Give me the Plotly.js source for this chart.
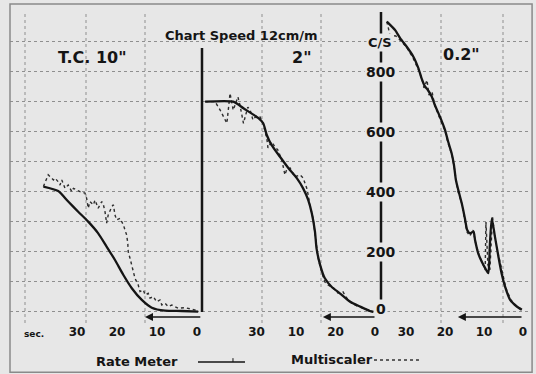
<!DOCTYPE html>
<html>
<head>
<meta charset="utf-8">
<script src="https://cdn.plot.ly/plotly-3.0.1.min.js"></script>
<style>html,body{margin:0;padding:0;background:#e7e7e7;}#chart{width:536px;height:374px;}</style>
</head>
<body>
<div id="chart"></div>
<script>
// ---- Data (seconds before end, counts per second) ----
// Panel T.C. 10"
const tc10RateSec = [38.4, 34.7, 32.2, 29.7, 27.2, 24.7, 22.6, 20.5, 18.4, 16.3, 13.8, 11.3, 8, 3.8, -0.3];
const tc10Rate    = [418, 403, 368, 334, 301, 262, 218, 173, 123, 79, 40, 14, 4, 3, 1];
const tc10MultiSec = [38.4, 37.2, 36.75, 35.9, 35.5, 34.7, 34.25, 33.8, 33, 32.2, 31.3, 30.9, 30.1, 29.25, 28, 27.6, 27.2, 26.75, 25.9, 25.5, 24.7, 23.8, 23.4, 23, 22.6, 22.2, 21.3, 20.9, 20.5, 20.1, 19.25, 18.4, 18, 17.6, 17.3, 17.2, 16.75, 16.3, 15.9, 15.5, 14.7, 14.25, 13.4, 13, 12.2, 11.75, 10.9, 10.1, 9.25, 8.8, 8, 7.2, 6.3, 4.7, 3, 1.3, -0.3];
const tc10Multi    = [418, 457, 451, 440, 446, 434, 423, 440, 412, 423, 401, 412, 407, 401, 396, 379, 346, 368, 357, 373, 346, 368, 357, 334, 296, 323, 351, 357, 323, 307, 312, 290, 273, 257, 229, 201, 179, 157, 134, 112, 90, 68, 73, 57, 62, 46, 51, 34, 40, 23, 29, 18, 23, 12, 14, 10, 4];

// Panel T.C. 2"
const tc2RateSec = [43.0, 35.9, 33.3, 29.5, 28.3, 27.4, 26.2, 24.1, 21.9, 19.8, 18.2, 16.9, 16.0, 15.2, 14.8, 13.9, 12.7, 11.0, 8.9, 6.3, 3.8, 1.3, 0.4];
const tc2Rate    = [701, 701, 679, 646, 629, 590, 557, 518, 479, 446, 412, 373, 329, 268, 212, 157, 112, 84, 62, 34, 18, 3, 0];
const tc2MultiSec = [43.0, 40.5, 39.2, 37.5, 36.7, 35.9, 34.7, 34.2, 33.3, 32.2, 31.6, 30.9, 30.1, 29.1, 28.4, 27.4, 27.1, 26.2, 25.3, 24.6, 23.6, 22.8, 22.4, 21.5, 20.3, 19.0, 18.2, 17.3, 16.9, 16.5, 15.7, 15.2, 14.4, 13.5, 12.7, 11.9, 10.6, 9.4, 8.1, 7.2, 5.9, 4.6, 3.0, 1.3, 0.5];
const tc2Multi    = [701, 701, 673, 629, 729, 673, 717, 690, 629, 683, 673, 640, 653, 650, 630, 580, 547, 567, 550, 540, 507, 457, 473, 480, 450, 457, 447, 413, 390, 357, 313, 257, 180, 133, 100, 90, 80, 63, 67, 47, 30, 20, 13, 3, 0];

// Panel T.C. 0.2"
const tc02RateSec = [34.9, 32.8, 31.5, 29.8, 28.1, 26.8, 26.0, 25.1, 24.4, 23.4, 22.6, 21.3, 20.0, 19.2, 18.3, 17.7, 17.2, 16.6, 15.7, 14.9, 14.3, 13.6, 12.7, 12.3, 11.5, 10.6, 9.7, 8.9, 8.5, 8.0, 7.2, 6.3, 5.5, 4.6, 3.3, 1.6, 0.3];
const tc02Rate    = [968, 940, 913, 884, 851, 812, 779, 751, 740, 718, 690, 651, 607, 568, 529, 490, 440, 407, 362, 312, 273, 262, 268, 240, 196, 168, 146, 129, 223, 312, 251, 184, 129, 84, 40, 18, 7];
const tc02MultiSec = [34.9, 34.1, 32.6, 31.0, 29.7, 28.2, 26.9, 25.9, 25.4, 24.6, 24.1, 23.3, 22.6, 21.3, 20.0, 19.2, 18.2, 17.7, 17.2, 16.7, 15.6, 14.9, 14.4, 13.6, 12.8, 12.1, 11.3, 10.5, 9.7, 9.5, 9.0, 8.5, 7.8, 7.4, 6.7, 5.9, 5.1, 4.4, 3.1, 1.5, 0.3];
const tc02Multi    = [968, 923, 920, 900, 880, 847, 810, 777, 747, 773, 723, 733, 687, 647, 603, 563, 523, 487, 447, 403, 357, 307, 267, 253, 273, 227, 190, 167, 140, 300, 157, 140, 317, 267, 213, 167, 123, 80, 40, 17, 7];

// Tick labels
const secTickVals = [30, 20, 10, 0];
const panel1TickText = ['30', '20', '10', '0'];
const panel2TickText = ['30', '10', '20', '0'];
const panel3TickText = ['30', '20', '10', '0'];
const csLabelVals = [800, 600, 400, 200, 0];

// ---- Styling ----
const BG = '#e7e7e7';
const INK = '#151515';
const FONT = 'DejaVu Sans, Liberation Sans, sans-serif';

function rate(x, y, xa) {
  return {x: x, y: y, xaxis: xa, yaxis: 'y', type: 'scatter', mode: 'lines', name: 'Rate Meter',
          line: {color: INK, width: 2.3, shape: 'spline', smoothing: 0.6}, showlegend: false, hoverinfo: 'skip'};
}
function multi(x, y, xa) {
  return {x: x, y: y, xaxis: xa, yaxis: 'y', type: 'scatter', mode: 'lines', name: 'Multiscaler',
          line: {color: '#2e2e2e', width: 1.4, dash: 'dot'}, showlegend: false, hoverinfo: 'skip'};
}

const traces = [
  multi(tc10MultiSec, tc10Multi, 'x'), rate(tc10RateSec, tc10Rate, 'x'),
  multi(tc2MultiSec, tc2Multi, 'x2'), rate(tc2RateSec, tc2Rate, 'x2'),
  multi(tc02MultiSec, tc02Multi, 'x3'), rate(tc02RateSec, tc02Rate, 'x3')
];

const xCommon = {
  showgrid: false, zeroline: false, showline: false, ticks: '',
  tickvals: secTickVals, anchor: 'y', autorange: false,
  tickfont: {family: FONT, size: 12, color: INK, weight: 'bold'}
};

const gridPx = [25, 86, 145, 262, 321, 441, 503]; // chart-paper vertical rules (pixel columns)
const shapes = gridPx.map(function (p) {
  return {type: 'line', xref: 'paper', yref: 'y', x0: (p - 10) / 520, x1: (p - 10) / 520, y0: -37, y1: 1000,
          line: {color: '#8f8f8f', width: 1, dash: 'dot'}, layer: 'below'};
});
// outer frame
shapes.push({type: 'rect', xref: 'paper', yref: 'paper', x0: 0, x1: 1.004, y0: -0.158, y1: 1.026,
             line: {color: '#8a8a8a', width: 1.5}});
// divider between T.C. 10" and 2"
shapes.push({type: 'line', xref: 'x2 domain', yref: 'y', x0: 0, x1: 0, y0: 0, y1: 880,
             line: {color: INK, width: 2.5}});
// C/S axis line
shapes.push({type: 'line', xref: 'x3 domain', yref: 'y', x0: 0, x1: 0, y0: 0, y1: 1000,
             line: {color: INK, width: 2.5}});
// legend samples
shapes.push({type: 'line', xref: 'paper', yref: 'paper', x0: 0.3615, x1: 0.4519, y0: -0.1254, y1: -0.1254,
             line: {color: INK, width: 1.6}});
shapes.push({type: 'line', xref: 'paper', yref: 'paper', x0: 0.4288, x1: 0.4288, y0: -0.1254, y1: -0.113,
             line: {color: INK, width: 1}});
shapes.push({type: 'line', xref: 'paper', yref: 'paper', x0: 0.70, x1: 0.7865, y0: -0.119, y1: -0.119,
             line: {color: '#333', width: 1.3, dash: 'dot'}});

const bold = function (size) { return {family: FONT, size: size, color: INK, weight: 'bold'}; };
function label(text, x, y, size, extra) {
  return Object.assign({text: text, xref: 'paper', yref: 'paper', x: x, y: y, xanchor: 'center', yanchor: 'middle',
                        showarrow: false, font: bold(size)}, extra || {});
}

const annotations = [
  label('Chart Speed 12cm/m', 0.446, 0.926, 13),
  label('T.C. 10"', 0.1596, 0.855, 16),
  label('2"', 0.5615, 0.855, 16),
  label('0.2"', 0.869, 0.862, 16),
  label('C/S', 0.7115, 0.9035, 13, {bgcolor: BG}),
  label('sec.', 0.046, -0.035, 9),
  label('Rate Meter', 0.2442, -0.1254, 13),
  label('Multiscaler', 0.6192, -0.1158, 13),
  // direction arrows
  {xref: 'x', yref: 'y', axref: 'x', ayref: 'y', x: 13, y: -17, ax: -1.2, ay: -17, text: '',
   showarrow: true, arrowhead: 2, arrowsize: 1, arrowwidth: 1.6, arrowcolor: INK},
  {xref: 'x2', yref: 'y', axref: 'x2', ayref: 'y', x: 13.2, y: -17, ax: -1.4, ay: -17, text: '',
   showarrow: true, arrowhead: 2, arrowsize: 1, arrowwidth: 1.6, arrowcolor: INK},
  {xref: 'x3', yref: 'y', axref: 'x3', ayref: 'y', x: 16.7, y: -17, ax: 0, ay: -17, text: '',
   showarrow: true, arrowhead: 2, arrowsize: 1, arrowwidth: 1.6, arrowcolor: INK}
];
csLabelVals.forEach(function (v) {
  annotations.push({text: String(v), xref: 'x3 domain', yref: 'y', x: 0, y: v, yshift: v === 0 ? 3 : 0,
                    xanchor: 'center', yanchor: 'middle',
                    showarrow: false, font: bold(14), bgcolor: BG, borderpad: 1});
});

const layout = {
  width: 536, height: 374,
  margin: {l: 10, r: 6, t: 12, b: 51},
  paper_bgcolor: BG, plot_bgcolor: BG,
  showlegend: false,
  xaxis: Object.assign({}, xCommon, {domain: [0, 0.36923], range: [46.75, -1.25], ticktext: panel1TickText}),
  xaxis2: Object.assign({}, xCommon, {domain: [0.36923, 0.71346], range: [43.8, -1.52], ticktext: panel2TickText}),
  xaxis3: Object.assign({}, xCommon, {domain: [0.71346, 1], range: [36.4, -1.79], ticktext: panel3TickText}),
  yaxis: {range: [-37, 1000], autorange: false, tick0: 0, dtick: 100, showgrid: true,
          gridcolor: '#8f8f8f', griddash: 'dot', gridwidth: 1, zeroline: false,
          showline: false, showticklabels: false, ticks: ''},
  shapes: shapes,
  annotations: annotations
};

Plotly.newPlot('chart', traces, layout, {displayModeBar: false, staticPlot: true});
</script>
</body>
</html>
